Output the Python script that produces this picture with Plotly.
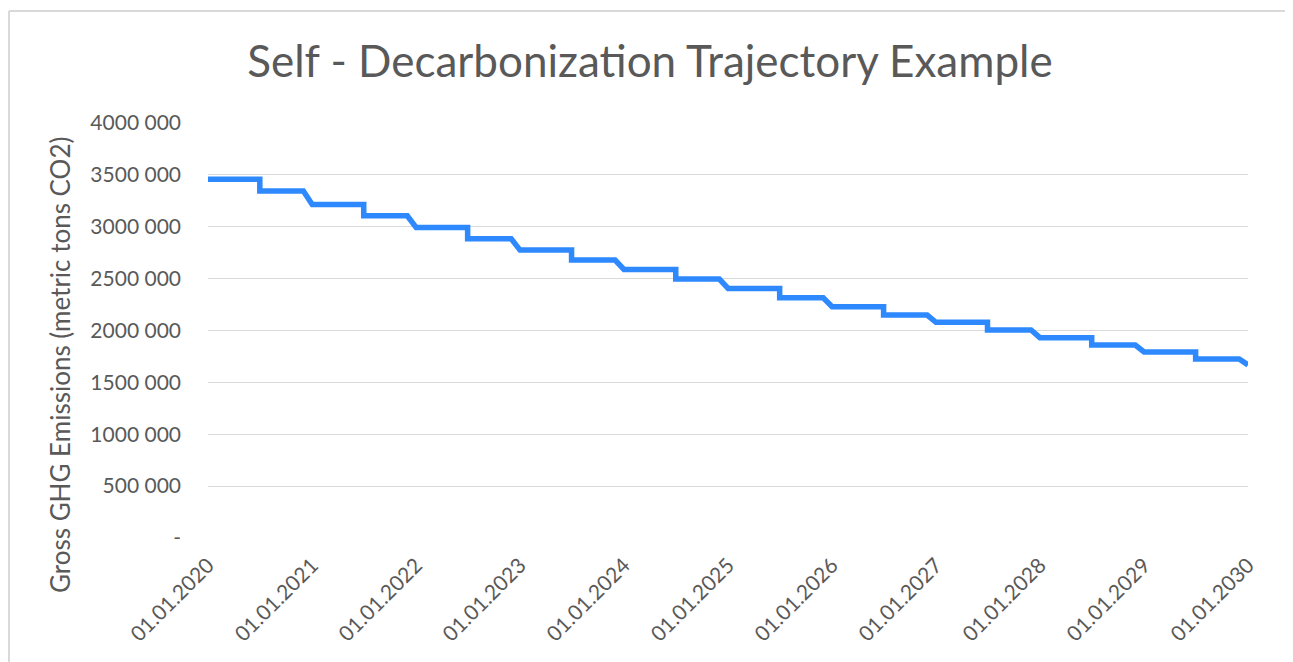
import plotly.graph_objects as go

# Half-year emission levels (metric tons CO2)
years = list(range(2020, 2030))
h1_levels = [3458000, 3215000, 2993000, 2775000, 2589000, 2406000, 2229000, 2079000, 1931000, 1793000]
h2_levels = [3344000, 3105000, 2884000, 2679000, 2496000, 2316000, 2149000, 2005000, 1860000, 1726000]
end_date = "2030-01-01"
end_value = 1668000

y_tick_vals = [0, 500000, 1000000, 1500000, 2000000, 2500000, 3000000, 3500000, 4000000]
y_tick_text = ["-", "500 000", "1000 000", "1500 000", "2000 000", "2500 000", "3000 000", "3500 000", "4000 000"]
x_tick_vals = [f"{y}-01-01" for y in range(2020, 2031)]
x_tick_text = [f"01.01.{y}" for y in range(2020, 2031)]

xs, ys = [], []
for y, a, b in zip(years, h1_levels, h2_levels):
    xs += [f"{y}-01-01", f"{y}-07-01", f"{y}-07-01", f"{y}-12-01"]
    ys += [a, a, b, b]
xs.append(end_date)
ys.append(end_value)

W, H = 1293, 662
OFF = 8  # page body offset
ml, mr, mt, mb = 208 - OFF, 45 + OFF, 123 - OFF, 124 + OFF

fig = go.Figure()
fig.add_trace(go.Scatter(x=xs, y=ys, mode="lines",
                         line=dict(color="#2E89FF", width=5.5), hoverinfo="skip"))

font_fam = "Lato, 'Open Sans', sans-serif"
gray = "#595959"

pw = W - ml - mr
ph = H - mt - mb
def px_x(p):
    return (p - OFF - ml) / pw
def px_y(p):
    return (H - mb - (p - OFF)) / ph

border = dict(type="line", xref="paper", yref="paper", line=dict(color="#d9d9d9", width=2))
fig.add_shape(x0=px_x(9), x1=px_x(9), y0=px_y(11), y1=px_y(700), **border)
fig.add_shape(x0=px_x(9), x1=px_x(1291), y0=px_y(11), y1=px_y(11), **border)
fig.add_shape(x0=px_x(1291), x1=px_x(1291), y0=px_y(11), y1=px_y(700), **border)

fig.add_annotation(text="Gross GHG Emissions (metric tons CO2)",
                   xref="paper", yref="paper", x=px_x(60), y=px_y(365),
                   xanchor="center", yanchor="middle", textangle=-90, showarrow=False,
                   font=dict(family=font_fam, size=26, color=gray))

fig.update_layout(
    width=W, height=H,
    margin=dict(l=ml, r=mr, t=mt, b=mb, autoexpand=False),
    paper_bgcolor="white", plot_bgcolor="white",
    showlegend=False,
    title=dict(text="Self - Decarbonization Trajectory Example",
               x=0.4965, xanchor="center", y=1 - 54 / H, yanchor="middle",
               font=dict(family=font_fam, size=44, color=gray)),
    xaxis=dict(type="date", range=["2020-01-01", "2030-01-01"],
               tickvals=x_tick_vals, ticktext=x_tick_text, tickangle=-45,
               tickfont=dict(family=font_fam, size=21, color=gray),
               showgrid=False, zeroline=False, showline=False, ticks="",
               ticklabelstandoff=10, automargin=False),
    yaxis=dict(range=[0, 4000000], tickvals=y_tick_vals, ticktext=y_tick_text,
               tickfont=dict(family=font_fam, size=21, color=gray),
               showgrid=True, gridcolor="#d9d9d9", gridwidth=1,
               zeroline=False, showline=False, ticks="", ticklabelstandoff=26,
               automargin=False),
)

fig.write_html("out.html")
